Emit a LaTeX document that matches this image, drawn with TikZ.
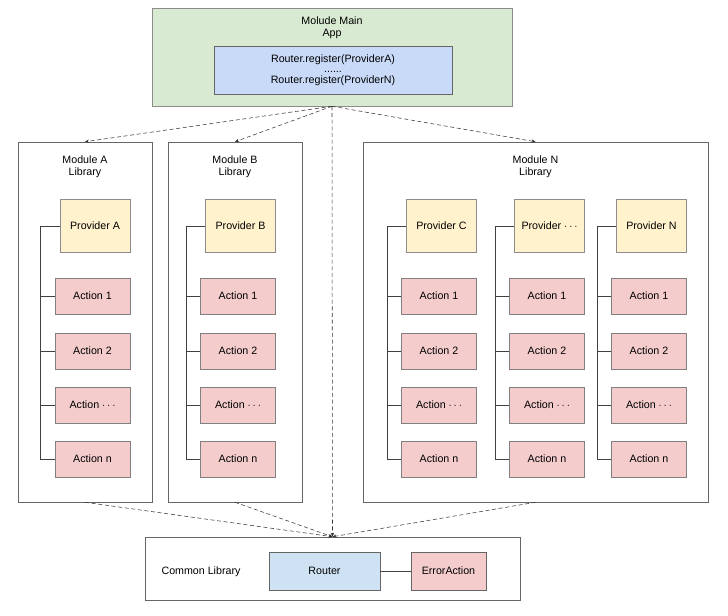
\documentclass[tikz,border=0pt]{standalone}
\usepackage{fontspec}
\setmainfont{Liberation Sans}
\usetikzlibrary{arrows.meta}

\definecolor{appgreen}{HTML}{D9EAD3}
\definecolor{regblue}{HTML}{C9DAF8}
\definecolor{routerblue}{HTML}{CFE2F3}
\definecolor{provyellow}{HTML}{FFF2CC}
\definecolor{actred}{HTML}{F4CCCC}

\tikzset{
    box/.style={
        draw=black!60,
        rectangle,
        inner sep=1pt,
        align=center
    },
    module/.style={
        box,
        fill=white,
        minimum height=270pt
    },
    provider/.style={
        box,
        fill=provyellow,
        draw=black!45,
        minimum width=52.5pt,
        minimum height=39.75pt
    },
    action/.style={
        box,
        fill=actred,
        draw=black!50,
        minimum width=56.25pt,
        minimum height=27pt
    },
    title/.style={
        align=center,
        inner sep=0pt
    },
    link/.style={
        densely dashed,
        black!80,
        -{Stealth[length=3pt,width=2.5pt]}
    }
}

\begin{document}
\begin{tikzpicture}[x=0.75pt, y=-0.75pt, font=\fontsize{8}{9}\selectfont]
\useasboundingbox (0,0) rectangle (728,616);
		% main app
		\path
			node[box,fill=appgreen,draw=black!45,minimum width=270pt,minimum height=73.5pt] at (332,57) (main) {}
			node[title] at (332,28) (mainT) {Molude Main\\App}
			node[box,fill=regblue,minimum width=178.5pt,minimum height=36pt] at (333,70) (reg)
				{Router.register(ProviderA)\\[-1pt]......\\[-1pt]Router.register(ProviderN)}
			;
		% module boxes
		\path
			node[module,minimum width=100.5pt] at (85,322) (modA) {}
			node[module,minimum width=100.5pt] at (235,322) (modB) {}
			node[module,minimum width=258.75pt] at (535.5,322) (modN) {}
			;
		\path
			node[title] at (85,167) (modAT) {Module A\\Library}
			node[title] at (235,167) (modBT) {Module B\\Library}
			node[title] at (535.5,167) (modNT) {Module N\\Library}
			;
		% providers
		\path
			node[provider] at (95,226) (pA) {Provider A}
			node[provider] at (240.5,226) (pB) {Provider B}
			node[provider] at (441.5,226) (pC) {Provider C}
			node[provider] at (549.5,226) (pD) {Provider $\cdots$}
			node[provider] at (651.5,226) (pN) {Provider N}
			;
		% actions
		\path 	(92.5,296)
					node[action](aA1){Action 1}
			++(0,55) node[action](aA2){Action 2}
			++(0,54) node[action](aA3){Action $\cdots$}
			++(0,54) node[action](aAn){Action n};
		\path 	(238,296)
					node[action](aB1){Action 1}
			++(0,55) node[action](aB2){Action 2}
			++(0,54) node[action](aB3){Action $\cdots$}
			++(0,54) node[action](aBn){Action n};
		\path 	(439,296)
					node[action](aC1){Action 1}
			++(0,55) node[action](aC2){Action 2}
			++(0,54) node[action](aC3){Action $\cdots$}
			++(0,54) node[action](aCn){Action n};
		\path 	(547,296)
					node[action](aD1){Action 1}
			++(0,55) node[action](aD2){Action 2}
			++(0,54) node[action](aD3){Action $\cdots$}
			++(0,54) node[action](aDn){Action n};
		\path 	(649,296)
					node[action](aN1){Action 1}
			++(0,55) node[action](aN2){Action 2}
			++(0,54) node[action](aN3){Action $\cdots$}
			++(0,54) node[action](aNn){Action n};

		% common library
		\path
			node[box,fill=white,minimum width=281.25pt,minimum height=47.25pt] at (332.5,568.5) (common) {}
			node[title] at (201,572) (commonT) {Common Library}
			node[box,fill=routerblue,minimum width=83.25pt,minimum height=28.5pt] at (324.5,571) (router) {Router}
			node[box,fill=actred,minimum width=56.25pt,minimum height=28.5pt] at (448.5,571) (err) {ErrorAction}
			;

		% trees
		\path [draw=black!75]
			(pA.west) -| ([xshift=-10.5pt]aAn.west) -- (aAn.west)
			(pB.west) -| ([xshift=-10.5pt]aBn.west) -- (aBn.west)
			(pC.west) -| ([xshift=-10.5pt]aCn.west) -- (aCn.west)
			(pD.west) -| ([xshift=-10.5pt]aDn.west) -- (aDn.west)
			(pN.west) -| ([xshift=-10.5pt]aNn.west) -- (aNn.west)
			(aA1.west) -- ++(-14,0) (aA2.west) -- ++(-14,0) (aA3.west) -- ++(-14,0)
			(aB1.west) -- ++(-14,0) (aB2.west) -- ++(-14,0) (aB3.west) -- ++(-14,0)
			(aC1.west) -- ++(-14,0) (aC2.west) -- ++(-14,0) (aC3.west) -- ++(-14,0)
			(aD1.west) -- ++(-14,0) (aD2.west) -- ++(-14,0) (aD3.west) -- ++(-14,0)
			(aN1.west) -- ++(-14,0) (aN2.west) -- ++(-14,0) (aN3.west) -- ++(-14,0)
			(router) -- (err)
			;

		% dependencies
		\path [link]
			(main.south) edge (modA.north)
			(main.south) edge (modB.north)
			(main.south) edge (modN.north)
			(main.south) edge (common.north)
			(modA.south) edge (common.north)
			(modB.south) edge (common.north)
			(modN.south) edge (common.north)
			;
\end{tikzpicture}
\end{document}
